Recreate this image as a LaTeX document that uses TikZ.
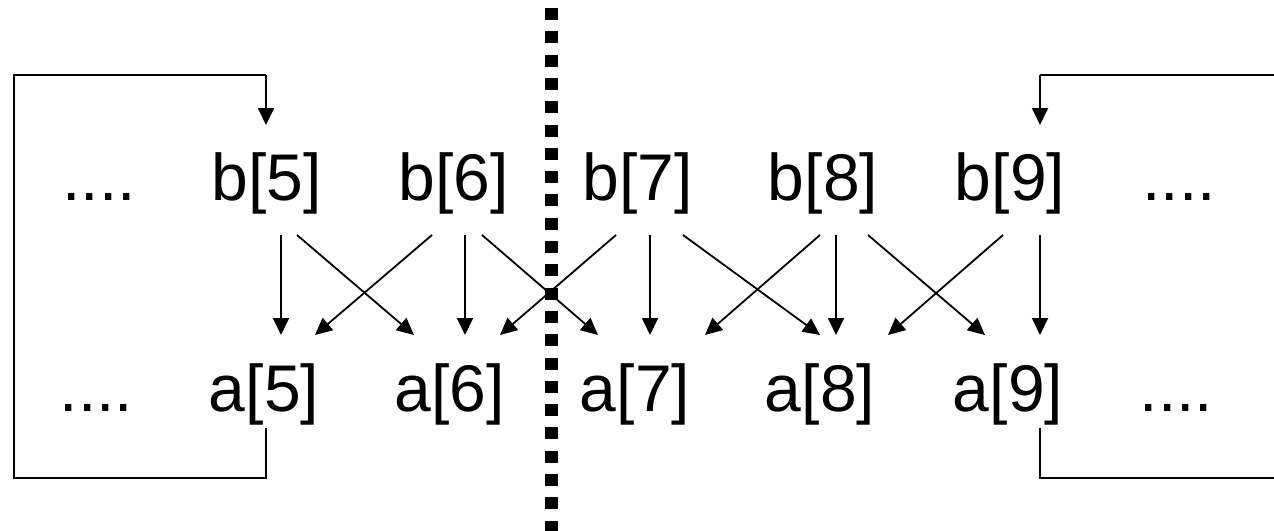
\documentclass[tikz,border=0pt]{standalone}
\usepackage{fontspec}
\setmainfont{Liberation Sans}
\usetikzlibrary{arrows.meta}
\begin{document}
\begin{tikzpicture}[x=1pt,y=-1pt,
  lbl/.style={anchor=base,inner sep=0pt,font=\fontsize{66}{66}\selectfont},
  conn/.style={line width=1.8pt,-{Triangle[length=17pt,width=16pt]}},
  loopline/.style={line width=1.8pt},
  divider/.style={line width=13pt,dash pattern=on 12pt off 11.3pt}]
\useasboundingbox (0,0) rectangle (1274,530);
% divider
\coordinate (dtop) at (551.5,8);
\coordinate (dbot) at (551.5,540);
\draw[divider] (dtop) -- (dbot);
% labels
\node[lbl] (bl) at (99,200) {....};
\node[lbl] (b5) at (266.5,200) {b[5]};
\node[lbl] (b6) at (453.5,200) {b[6]};
\node[lbl] (b7) at (637.5,200) {b[7]};
\node[lbl] (b8) at (823,200) {b[8]};
\node[lbl] (b9) at (1010,200) {b[9]};
\node[lbl] (br) at (1179,200) {....};
\node[lbl] (al) at (96.5,411) {....};
\node[lbl] (a5) at (264,411) {a[5]};
\node[lbl] (a6) at (449.5,411) {a[6]};
\node[lbl] (a7) at (635,411) {a[7]};
\node[lbl] (a8) at (820,411) {a[8]};
\node[lbl] (a9) at (1008,411) {a[9]};
\node[lbl] (ar) at (1176.5,411) {....};
% arrow end points
\coordinate (b5v) at (281,235);   \coordinate (a5v) at (281,335);
\coordinate (b6v) at (465,235);   \coordinate (a6v) at (465,335);
\coordinate (b7v) at (650,235);   \coordinate (a7v) at (650,335);
\coordinate (b8v) at (836,235);   \coordinate (a8v) at (836,335);
\coordinate (b9v) at (1040,235);  \coordinate (a9v) at (1040,335);
\coordinate (b5r) at (297,235);   \coordinate (a6l) at (414,335);
\coordinate (b6l) at (432,235);   \coordinate (a5r) at (315,335);
\coordinate (b6r) at (482,235);   \coordinate (a7l) at (598,335);
\coordinate (b7l) at (616,235);   \coordinate (a6r) at (500,335);
\coordinate (b7r) at (683,235);   \coordinate (a8l) at (820,335);
\coordinate (b8l) at (820,235);   \coordinate (a7r) at (705,335);
\coordinate (b8r) at (868,235);   \coordinate (a9l) at (985,335);
\coordinate (b9l) at (1003,235);  \coordinate (a8r) at (888,335);
\foreach \s/\t in {b5v/a5v,b6v/a6v,b7v/a7v,b8v/a8v,b9v/a9v,
                   b5r/a6l,b6l/a5r,b6r/a7l,b7l/a6r,b7r/a8l,b8l/a7r,b8r/a9l,b9l/a8r}
  \draw[conn] (\s) -- (\t);
% left loop
\coordinate (a5o) at (266,428);
\coordinate (b5in) at (266,125);
\draw[loopline] (a5o) -- (266,478) -- (14,478) -- (14,75) -- (266,75);
\draw[conn] (266,75) -- (b5in);
% right loop
\coordinate (a9o) at (1040,428);
\coordinate (b9in) at (1040,125);
\draw[loopline] (a9o) -- (1040,478) -- (1280,478);
\draw[loopline] (1280,75) -- (1040,75);
\draw[conn] (1040,75) -- (b9in);
\end{tikzpicture}
\end{document}
